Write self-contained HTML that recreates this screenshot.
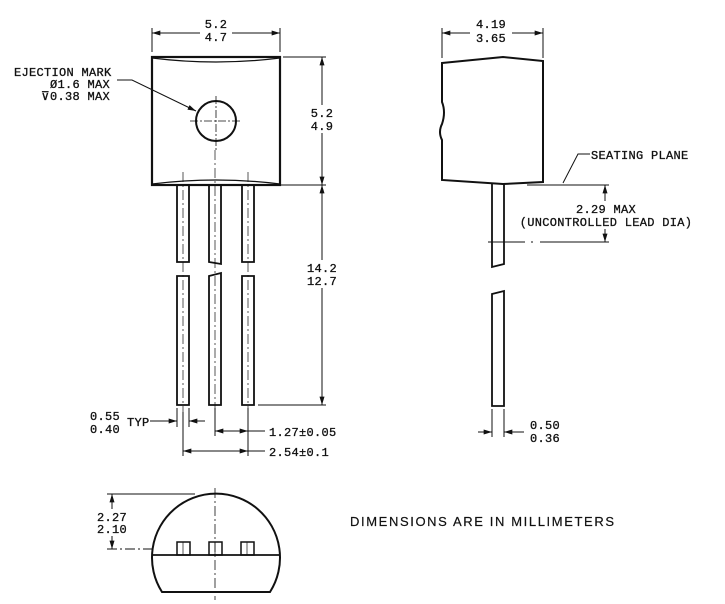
<!DOCTYPE html>
<html><head><meta charset="utf-8"><style>
html,body{margin:0;padding:0;background:#fff}
svg{display:block}
text{font-family:"Liberation Mono",monospace;font-size:12px;fill:#111;stroke:#111;stroke-width:0.3;letter-spacing:0.3px}
</style></head><body>
<svg width="725" height="604" viewBox="0 0 725 604" xmlns="http://www.w3.org/2000/svg">
<defs>
<marker id="a" viewBox="0 0 10 6" refX="10" refY="3" markerWidth="9" markerHeight="5" orient="auto" markerUnits="userSpaceOnUse"><path d="M0,0L10,3L0,6z" fill="#111"/></marker>
</defs>
<g stroke="#111" fill="none">
<rect x="152" y="57" width="128" height="128" stroke-width="2.2"/>
<path d="M152,58 Q216,66 280,58" stroke-width="1.2"/>
<path d="M152,184 Q216,176 280,184" stroke-width="1.2"/>
<circle cx="216" cy="121" r="20" stroke-width="2"/>
<path d="M216,96V150 M190,121H242" stroke-width="0.8" stroke-dasharray="8,2,2,2"/>
<path d="M117,80H132L196,111" stroke-width="1" marker-end="url(#a)"/>
<g stroke-width="1.8">
<path d="M177,185V262H189V185"/><path d="M177,276H189V405H177Z"/>
<path d="M209,185V262L221,264V185"/><path d="M209,276L221,273V405H209Z"/>
<path d="M242,185V262H254V185"/><path d="M242,276H254V405H242Z"/>
</g>
<path d="M183,172V412 M215,150V412 M248,172V412" stroke-width="0.7" stroke-dasharray="10,3,2,3"/>
<path d="M152,52V28 M280,52V28 M152,33H200 M232,33H280" stroke-width="1"/>
<path d="M162,33H152" stroke-width="1" marker-end="url(#a)"/>
<path d="M270,33H280" stroke-width="1" marker-end="url(#a)"/>
<path d="M283,57H326 M258,185H326 M258,405H326 M322,57V405" stroke-width="1"/>
<path d="M322,67V57" stroke-width="1" marker-end="url(#a)"/>
<path d="M322,175V185" stroke-width="1" marker-end="url(#a)"/>
<path d="M322,195V185" stroke-width="1" marker-end="url(#a)"/>
<path d="M322,395V405" stroke-width="1" marker-end="url(#a)"/>
<path d="M177,408V427 M189,408V427 M215,408V436 M248,408V456 M183,412V456 M150,421H155 M215,431H265 M183,451H265" stroke-width="1"/>
<path d="M155,421H177" stroke-width="1" marker-end="url(#a)"/>
<path d="M205,421H189" stroke-width="1" marker-end="url(#a)"/>
<path d="M225,431H215" stroke-width="1" marker-end="url(#a)"/>
<path d="M238,431H248" stroke-width="1" marker-end="url(#a)"/>
<path d="M193,451H183" stroke-width="1" marker-end="url(#a)"/>
<path d="M238,451H248" stroke-width="1" marker-end="url(#a)"/>
<path d="M442,63L503,57L543,61V182L503,184L442,180V140Q438,132 442,124Q446,112 442,102Z" stroke-width="2"/>
<path d="M492,184V267L504,264V184" stroke-width="1.8"/>
<path d="M492,294L504,291V406H492Z" stroke-width="1.8"/>
<path d="M442,58V28 M543,58V28 M442,33H470 M512,33H543" stroke-width="1"/>
<path d="M452,33H442" stroke-width="1" marker-end="url(#a)"/>
<path d="M533,33H543" stroke-width="1" marker-end="url(#a)"/>
<path d="M527,185H609 M590,154H578L563,183 M605,185V242" stroke-width="1"/>
<path d="M605,196V185" stroke-width="1" marker-end="url(#a)"/>
<path d="M605,231V242" stroke-width="1" marker-end="url(#a)"/>
<path d="M488,242H525 M531,242H533 M540,242H609" stroke-width="1"/>
<path d="M492,409V437 M504,409V437" stroke-width="1"/>
<path d="M478,432H492" stroke-width="1" marker-end="url(#a)"/>
<path d="M524,432H504" stroke-width="1" marker-end="url(#a)"/>
<path d="M162,592A64,64 0 1 1 270,592Z" stroke-width="2"/>
<path d="M153,555H279" stroke-width="1.8"/>
<g stroke-width="1.5"><rect x="177" y="542" width="13" height="13"/><rect x="209" y="542" width="13" height="13"/><rect x="241" y="542" width="13" height="13"/></g>
<path d="M183,542V555 M215,542V555 M247,542V555" stroke-width="0.7"/>
<path d="M215,488V600" stroke-width="0.8" stroke-dasharray="10,3,2,3"/>
<path d="M107,494H195 M112,494V549" stroke-width="1"/>
<path d="M107,549H152" stroke-width="1" stroke-dasharray="10,3,2,3"/>
<path d="M112,504V494" stroke-width="1" marker-end="url(#a)"/>
<path d="M112,539V549" stroke-width="1" marker-end="url(#a)"/>
</g>
<rect x="200" y="17" width="32" height="28" fill="#fff"/>
<text x="216" y="28" text-anchor="middle">5.2</text>
<text x="216" y="41" text-anchor="middle">4.7</text>
<rect x="310" y="105" width="26" height="28" fill="#fff"/>
<text x="322" y="117" text-anchor="middle">5.2</text>
<text x="322" y="130" text-anchor="middle">4.9</text>
<rect x="306" y="260" width="32" height="28" fill="#fff"/>
<text x="322" y="272" text-anchor="middle">14.2</text>
<text x="322" y="285" text-anchor="middle">12.7</text>
<text x="14" y="76">EJECTION MARK</text>
<text x="110" y="88" text-anchor="end">Ø1.6 MAX</text>
<text x="110" y="100" text-anchor="end">⊽0.38 MAX</text>
<text x="90" y="420">0.55</text>
<text x="90" y="433">0.40</text>
<text x="127" y="426">TYP</text>
<text x="269" y="436">1.27±0.05</text>
<text x="269" y="456">2.54±0.1</text>
<text x="491" y="28" text-anchor="middle">4.19</text>
<text x="491" y="42" text-anchor="middle">3.65</text>
<text x="591" y="159">SEATING PLANE</text>
<rect x="514" y="201" width="182" height="28" fill="#fff"/>
<text x="606" y="213" text-anchor="middle">2.29 MAX</text>
<text x="606" y="226" text-anchor="middle">(UNCONTROLLED LEAD DIA)</text>
<text x="530" y="429">0.50</text>
<text x="530" y="442">0.36</text>
<rect x="96" y="509" width="32" height="27" fill="#fff"/>
<text x="97" y="521">2.27</text>
<text x="97" y="533">2.10</text>
<text x="350" y="526" style="font-family:'Liberation Sans',sans-serif;font-size:13px;letter-spacing:0;stroke-width:0.2" textLength="264" lengthAdjust="spacing">DIMENSIONS  ARE  IN  MILLIMETERS</text>
</svg>
</body></html>
